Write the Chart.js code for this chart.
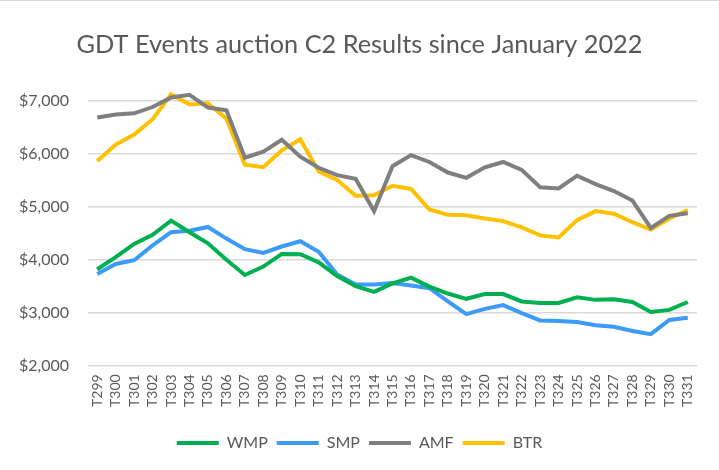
<!DOCTYPE html>
<html>
<head>
<meta charset="utf-8">
<script src="https://cdn.jsdelivr.net/npm/chart.js@4/dist/chart.umd.min.js"></script>
<style>
  html, body { margin: 0; padding: 0; background: #fff; }
  #wrap { width: 719px; height: 470px; position: relative; }
  #topline { position: absolute; left: 0; top: 0; width: 719px; height: 1px; background: #d9d9d9; }
</style>
</head>
<body>
<div id="wrap"><canvas id="c" width="719" height="470"></canvas><div id="topline"></div></div>
<script>
const categories = ["T299","T300","T301","T302","T303","T304","T305","T306","T307","T308","T309",
  "T310","T311","T312","T313","T314","T315","T316","T317","T318","T319","T320",
  "T321","T322","T323","T324","T325","T326","T327","T328","T329","T330","T331"];

const wmp = [3820,4050,4300,4470,4740,4520,4310,4000,3710,3870,4110,
  4105,3950,3690,3500,3390,3550,3660,3490,3360,3260,3350,
  3350,3210,3180,3180,3290,3240,3250,3200,3010,3050,3200];

const smp = [3730,3920,3990,4270,4520,4550,4620,4400,4200,4130,4250,
  4350,4150,3720,3530,3530,3560,3510,3460,3210,2970,3070,
  3140,2990,2850,2840,2820,2760,2730,2650,2590,2860,2900];

const amf = [6690,6750,6770,6890,7070,7120,6880,6830,5930,6045,6270,
  5950,5740,5600,5530,4920,5770,5980,5850,5650,5550,5750,
  5850,5700,5370,5350,5590,5430,5300,5120,4600,4830,4880];

const btr = [5870,6180,6370,6660,7130,6940,6960,6670,5800,5750,6070,
  6280,5670,5510,5210,5220,5400,5340,4950,4850,4840,4780,
  4730,4610,4460,4420,4750,4920,4870,4710,4570,4780,4940];

const yTicks = [2000,3000,4000,5000,6000,7000];

const seriesNames = ["WMP","SMP","AMF","BTR"];
const seriesColors = ["#00B050","#3D9BF7","#7F7F7F","#FFC000"];
const seriesData = [wmp, smp, amf, btr];

const FONT = "Lato, 'Open Sans', sans-serif";
const TXT = "#595959";

// centre title and legend on the whole canvas (as the original chart does)
const centreBlocks = {
  id: "centreBlocks",
  afterLayout(chart) {
    const shift = (chart.width / 2) - (chart.titleBlock.left + chart.titleBlock.right) / 2;
    [chart.titleBlock, chart.legend].forEach(b => { if (b) { b.left += shift; b.right += shift; } });
  }
};

new Chart(document.getElementById("c"), {
  type: "line",
  data: {
    labels: categories,
    datasets: seriesNames.map((n, i) => ({
      label: n,
      data: seriesData[i],
      borderColor: seriesColors[i],
      backgroundColor: seriesColors[i],
      borderWidth: 4,
      pointRadius: 0,
      pointHoverRadius: 0,
      tension: 0,
      fill: false
    }))
  },
  plugins: [centreBlocks],
  options: {
    responsive: false,
    animation: false,
    devicePixelRatio: 1,
    layout: { padding: { left: 0, right: 22, top: 10, bottom: 9 } },
    plugins: {
      title: {
        display: true,
        text: "GDT Events auction C2 Results since January 2022",
        color: TXT,
        font: { family: FONT, size: 25.3, weight: "normal" },
        padding: { top: 20, bottom: 25 }
      },
      legend: {
        position: "bottom",
        labels: {
          color: TXT,
          font: { family: FONT, size: 16 },
          usePointStyle: true,
          pointStyle: "line",
          pointStyleWidth: 42,
          boxHeight: 16,
          padding: 9
        }
      },
      tooltip: { enabled: false }
    },
    scales: {
      x: {
        offset: true,
        grid: { display: false, drawTicks: false },
        border: { display: false },
        afterFit: (s) => { s.height += 10; },
        ticks: {
          color: TXT,
          font: { family: FONT, size: 14 },
          minRotation: 90,
          maxRotation: 90,
          autoSkip: false,
          padding: 9
        }
      },
      y: {
        min: 2000,
        max: 7300,
        grid: { color: "#D9D9D9", lineWidth: 1.5, drawTicks: false },
        border: { display: false },
        afterBuildTicks: (axis) => { axis.ticks = yTicks.map(v => ({ value: v })); },
        ticks: {
          color: TXT,
          font: { family: FONT, size: 16 },
          padding: 19,
          callback: (v) => "$" + Number(v).toLocaleString("en-US")
        }
      }
    }
  }
});
</script>
</body>
</html>
